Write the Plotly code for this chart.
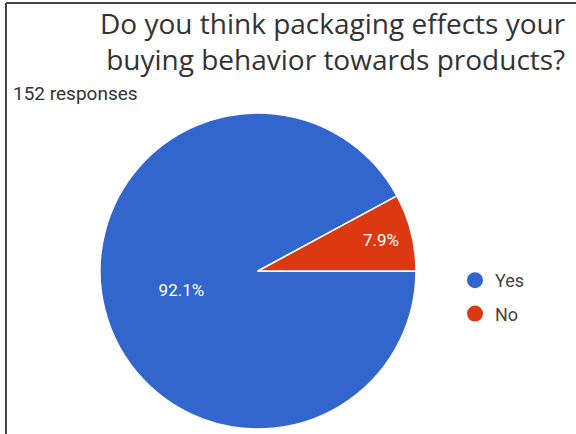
import plotly.graph_objects as go

title_lines = ["Do you think packaging effects your", "buying behavior towards products?"]
subtitle = "152 responses"
labels = ["Yes", "No"]
values = [140, 12]
colors = ["#3366cc", "#dc3912"]
legend_order = ["Yes", "No"]

W, H = 576, 434
fig = go.Figure()
fig.add_trace(go.Pie(
    labels=labels, values=values, sort=False, direction="counterclockwise",
    rotation=90, marker=dict(colors=colors, line=dict(color="white", width=1.5)),
    textinfo="percent", texttemplate="%{percent:.1%}", textposition="inside",
    insidetextfont=dict(color="white", size=17, family="Roboto"),
    domain=dict(x=[100/W, 416/W], y=[5/H, 321/H]),
    showlegend=False, hoverinfo="label+percent",
))
cmap = dict(zip(labels, colors))
for lab in legend_order:
    fig.add_trace(go.Scatter(x=[None], y=[None], mode="markers", name=lab, legendgroup=lab,
                             marker=dict(symbol="circle", size=20, color=cmap[lab])))

fig.update_layout(
    width=W, height=H, margin=dict(l=0, r=0, t=0, b=0),
    paper_bgcolor="white", plot_bgcolor="white",
    xaxis=dict(visible=False), yaxis=dict(visible=False),
    legend=dict(x=455/W, y=1-262/H, xanchor="left", yanchor="top",
                font=dict(family="Roboto", size=18, color="#444"),
                itemsizing="trace", tracegroupgap=7, bgcolor="rgba(0,0,0,0)"),
    annotations=[
        dict(text="<br>".join(title_lines), x=568/W, y=1-2/H, xref="paper", yref="paper",
             xanchor="right", yanchor="top", align="right", showarrow=False,
             font=dict(family="Open Sans", size=28, color="#333")),
        dict(text=subtitle, x=11/W, y=1-80/H, xref="paper", yref="paper",
             xanchor="left", yanchor="top", showarrow=False,
             font=dict(family="Roboto", size=19, color="#333")),
    ],
    shapes=[
        dict(type="line", xref="paper", yref="paper", x0=6/W, x1=6/W, y0=0, y1=1-3/H,
             line=dict(color="#444", width=2)),
        dict(type="line", xref="paper", yref="paper", x0=6/W, x1=1, y0=1-3/H, y1=1-3/H,
             line=dict(color="#444", width=2)),
    ],
)
fig.write_html("out.html")
